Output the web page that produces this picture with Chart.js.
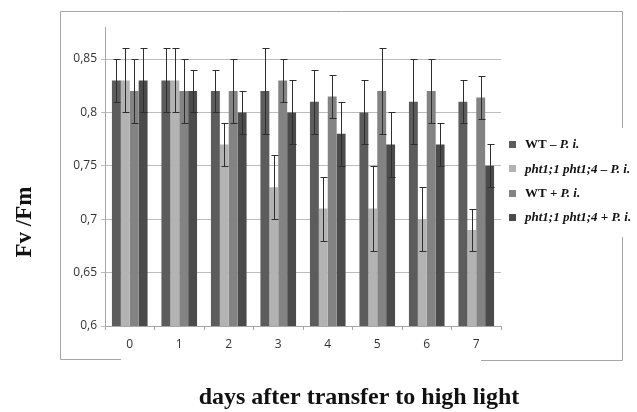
<!DOCTYPE html>
<html>
<head>
<meta charset="utf-8">
<script src="https://cdn.jsdelivr.net/npm/chart.js@4/dist/chart.umd.min.js"></script>
<style>
  html, body { margin: 0; padding: 0; background: #fff; }
  #wrap { position: relative; width: 637px; height: 412px; }
</style>
</head>
<body>
<div id="wrap"><canvas id="chart" width="637" height="412"></canvas></div>
<script>
// days after transfer
var days = ["0", "1", "2", "3", "4", "5", "6", "7"];

// Fv/Fm means
var wtMinus   = [0.83, 0.83, 0.82, 0.82, 0.81, 0.80, 0.81, 0.81];
var phtMinus  = [0.83, 0.83, 0.77, 0.73, 0.71, 0.71, 0.70, 0.69];
var wtPlus    = [0.82, 0.82, 0.82, 0.83, 0.815, 0.82, 0.82, 0.814];
var phtPlus   = [0.83, 0.82, 0.80, 0.80, 0.78, 0.77, 0.77, 0.75];

// error (+/-)
var wtMinusErr  = [0.02, 0.03, 0.02, 0.04, 0.03, 0.03, 0.04, 0.02];
var phtMinusErr = [0.03, 0.03, 0.02, 0.03, 0.03, 0.04, 0.03, 0.02];
var wtPlusErr   = [0.03, 0.03, 0.03, 0.02, 0.02, 0.04, 0.03, 0.02];
var phtPlusErr  = [0.03, 0.02, 0.02, 0.03, 0.03, 0.03, 0.02, 0.02];

var yTicks = [0.6, 0.65, 0.7, 0.75, 0.8, 0.85];

// legend pieces: [text, italic]
var legendItems = [
  [["WT \u2013 ", false], ["P. i.", true]],
  [["pht1;1 pht1;4 \u2013 P. i.", true]],
  [["WT + ", false], ["P. i.", true]],
  [["pht1;1 pht1;4 + P. i.", true]]
];

var colors = ["#5c5c5c", "#b3b3b3", "#838383", "#4b4b4b"];

function ds(label, data, err, color) {
  return {
    label: label,
    data: data,
    err: err,
    backgroundColor: color,
    borderColor: color,
    borderWidth: 0,
    categoryPercentage: 0.72,
    barPercentage: 1.0
  };
}

// error bars
var errorBars = {
  id: "errorBars",
  afterDatasetsDraw: function (chart) {
    var ctx = chart.ctx;
    var y = chart.scales.y;
    ctx.save();
    ctx.strokeStyle = "#2e2e2e";
    ctx.lineWidth = 1;
    chart.data.datasets.forEach(function (d, i) {
      var meta = chart.getDatasetMeta(i);
      meta.data.forEach(function (bar, j) {
        var v = d.data[j], e = d.err[j];
        var top = Math.round(y.getPixelForValue(v + e)) + 0.5;
        var bot = Math.round(y.getPixelForValue(v - e)) + 0.5;
        var x = Math.round(bar.x) + 0.5;
        ctx.beginPath();
        ctx.moveTo(x, top); ctx.lineTo(x, bot);
        ctx.moveTo(x - 3, top); ctx.lineTo(x + 4, top);
        ctx.moveTo(x - 3, bot); ctx.lineTo(x + 4, bot);
        ctx.stroke();
      });
    });
    ctx.restore();
  }
};

// outer frame, titles and legend
var decor = {
  id: "decor",
  beforeDraw: function (chart) {
    var ctx = chart.ctx;
    ctx.save();
    ctx.strokeStyle = "#a6a6a6";
    ctx.lineWidth = 1;
    ctx.beginPath();
    ctx.moveTo(60.5, 359.5); ctx.lineTo(60.5, 11.5); ctx.lineTo(622.5, 11.5); ctx.lineTo(622.5, 128);
    ctx.moveTo(622.5, 237); ctx.lineTo(622.5, 360.5); ctx.lineTo(481, 360.5);
    ctx.moveTo(60.5, 359.5); ctx.lineTo(121, 359.5);
    ctx.stroke();
    ctx.restore();
  },
  afterDraw: function (chart) {
    var ctx = chart.ctx;
    ctx.save();
    ctx.fillStyle = "#111";
    ctx.font = "bold 24px 'Liberation Serif', 'Times New Roman', serif";
    ctx.textAlign = "center";
    ctx.textBaseline = "middle";
    ctx.fillText("days after transfer to high light", 359, 398);
    ctx.font = "bold 23px 'Liberation Serif', 'Times New Roman', serif";
    ctx.translate(25, 222);
    ctx.rotate(-Math.PI / 2);
    ctx.fillText("Fv /Fm", 0, 0);
    ctx.restore();

    ctx.save();
    ctx.textBaseline = "middle";
    ctx.textAlign = "left";
    legendItems.forEach(function (parts, i) {
      var yy = 145 + i * 24.3;
      ctx.fillStyle = colors[i];
      ctx.fillRect(509, Math.round(yy) - 4, 7, 7);
      var x = 525;
      ctx.fillStyle = "#111";
      parts.forEach(function (p) {
        ctx.font = (p[1] ? "italic " : "") + "bold 13px 'Liberation Serif', 'Times New Roman', serif";
        ctx.fillText(p[0], x, yy);
        x += ctx.measureText(p[0]).width;
      });
    });
    ctx.restore();
  }
};

var ctx = document.getElementById("chart").getContext("2d");
var chart = new Chart(ctx, {
  type: "bar",
  data: {
    labels: days,
    datasets: [
      ds("WT \u2013 P. i.", wtMinus, wtMinusErr, colors[0]),
      ds("pht1;1 pht1;4 \u2013 P. i.", phtMinus, phtMinusErr, colors[1]),
      ds("WT + P. i.", wtPlus, wtPlusErr, colors[2]),
      ds("pht1;1 pht1;4 + P. i.", phtPlus, phtPlusErr, colors[3])
    ]
  },
  options: {
    responsive: false,
    animation: false,
    layout: { padding: { left: 60, right: 136, top: 27, bottom: 56 } },
    plugins: { legend: { display: false }, tooltip: { enabled: false } },
    scales: {
      x: {
        afterFit: function (s) { s.height = 30; },
        grid: { display: true, drawOnChartArea: false, drawTicks: true, tickLength: 4, color: "#a6a6a6", offset: true },
        border: { color: "#a6a6a6" },
        ticks: { color: "#333", font: { family: "'Open Sans', 'DejaVu Sans', sans-serif", size: 12 }, padding: 7 }
      },
      y: {
        min: 0.6,
        max: 0.88,
        afterFit: function (s) { s.width = 45; },
        afterBuildTicks: function (s) { s.ticks = yTicks.map(function (v) { return { value: v }; }); },
        grid: { color: "#bdbdbd", tickLength: 4 },
        border: { color: "#a6a6a6" },
        ticks: {
          color: "#333",
          padding: 4,
          font: { family: "'Open Sans', 'DejaVu Sans', sans-serif", size: 12 },
          callback: function (v) { return String(Math.round(v * 100) / 100).replace(".", ","); }
        }
      }
    }
  },
  plugins: [errorBars, decor]
});
</script>
</body>
</html>
